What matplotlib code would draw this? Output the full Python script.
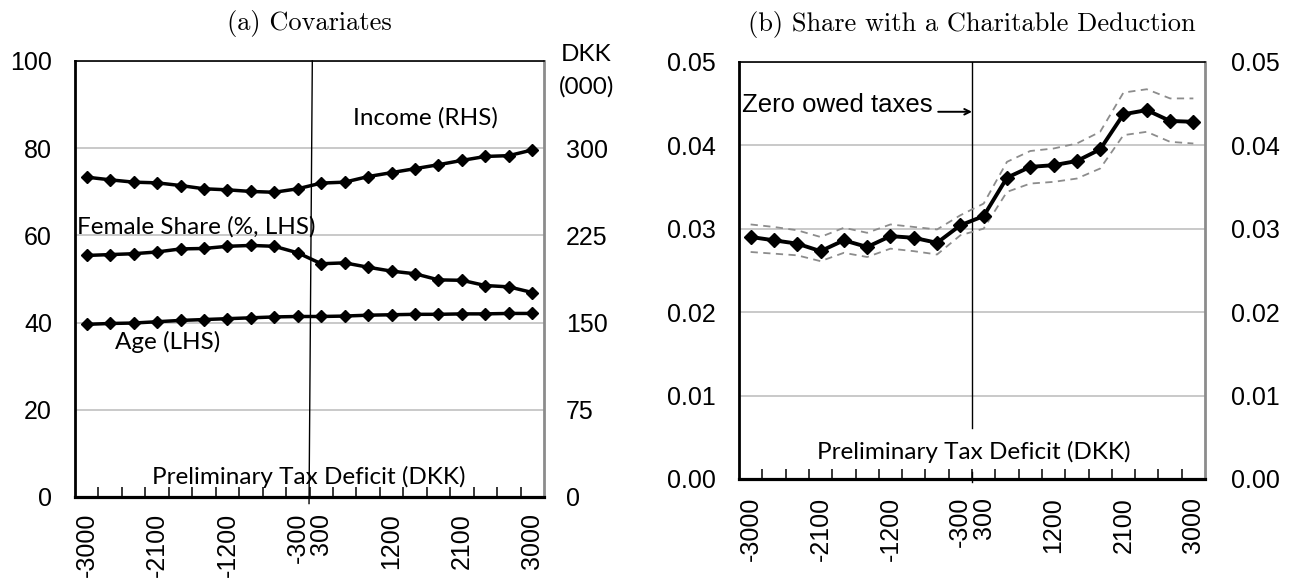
import numpy as np
import matplotlib
matplotlib.use('Agg')
import matplotlib.pyplot as plt
from matplotlib.ticker import FormatStrFormatter

# preliminary tax deficit bins (DKK)
bins = [-3000, -2700, -2400, -2100, -1800, -1500, -1200, -900, -600, -300,
        300, 600, 900, 1200, 1500, 1800, 2100, 2400, 2700, 3000]
shown = [-3000, -2100, -1200, -300, 300, 1200, 2100, 3000]

# panel (a): covariates by bin
income = [275.1, 272.8, 270.8, 270.2, 267.9, 265.1, 264.2, 262.8, 262.1, 265.1,
          270.0, 270.8, 275.6, 279.0, 282.4, 285.8, 289.5, 292.9, 293.6, 298.5]
female = [55.4, 55.6, 55.8, 56.2, 56.9, 57.0, 57.5, 57.7, 57.5, 56.0,
          53.5, 53.7, 52.7, 51.8, 51.2, 49.8, 49.7, 48.5, 48.2, 46.9]
age = [39.6, 39.8, 39.9, 40.2, 40.5, 40.7, 40.9, 41.1, 41.3, 41.4,
       41.4, 41.5, 41.7, 41.8, 41.9, 41.9, 42.0, 42.0, 42.1, 42.1]

# panel (b): share with a charitable deduction and its band
share = [0.0290, 0.0286, 0.0282, 0.0273, 0.0286, 0.0278, 0.0291, 0.0289, 0.0283, 0.0304,
         0.0315, 0.0361, 0.0374, 0.0376, 0.0381, 0.0395, 0.0437, 0.0442, 0.0429, 0.0428]
share_hi = [0.0305, 0.0302, 0.0298, 0.0290, 0.0301, 0.0295, 0.0305, 0.0302, 0.0299, 0.0316,
            0.0330, 0.0380, 0.0393, 0.0396, 0.0402, 0.0416, 0.0463, 0.0467, 0.0456, 0.0456]
share_lo = [0.0272, 0.0270, 0.0268, 0.0261, 0.0271, 0.0266, 0.0276, 0.0273, 0.0269, 0.0292,
            0.0300, 0.0344, 0.0354, 0.0356, 0.0360, 0.0372, 0.0412, 0.0416, 0.0404, 0.0402]

x = np.arange(len(bins))
lab_pos = [bins.index(b) for b in shown]
cut = bins.index(300) - 0.5   # between -300 and 300

tickfont = 'Liberation Sans'
notefont = 'Lato'
titlefont = ['cmr10', 'DejaVu Serif']
grid_c = '#c0c0c0'

fig = plt.figure(figsize=(12.91, 5.79), dpi=100)
axa = fig.add_axes([75/1291, 1-497/579, 469/1291, 436/579])
axb = fig.add_axes([739/1291, 1-479/579, 466/1291, 417.3/579])


def frame(ax, xpad):
    ax.set_xlim(-0.5, len(bins)-0.5)
    ax.set_xticks(lab_pos)
    ax.set_xticklabels([str(b) for b in shown], rotation=90, va='top', ha='center',
                       fontsize=18, family=tickfont)
    ax.set_xticks(np.arange(0.5, len(bins)-1), minor=True)
    ax.tick_params(axis='x', which='major', length=0, pad=xpad)
    ax.tick_params(axis='x', which='minor', direction='in', length=7, width=1.1, color='black')
    ax.tick_params(axis='y', length=0, pad=16.5, labelsize=18)
    for t in ax.get_yticklabels():
        t.set_family(tickfont)
    ax.grid(axis='y', color=grid_c, lw=1.2)
    ax.set_axisbelow(True)
    ax.spines['left'].set_linewidth(2)
    ax.spines['bottom'].set_linewidth(2.3)
    ax.spines['top'].set_linewidth(1.2)
    ax.spines['right'].set_color('#8c8c8c')
    ax.spines['right'].set_linewidth(2)


# ---- (a) Covariates
axa.set_ylim(0, 100)
axa.set_yticks([0, 20, 40, 60, 80, 100])
frame(axa, 11.5)
axa.plot([cut+0.12, cut-0.02], [100, -1.5], color='black', lw=1, clip_on=False, zorder=3)
axa.plot(x, female, color='black', lw=2.5, marker='D', ms=6.4, zorder=4)
axa.plot(x, age, color='black', lw=2.5, marker='D', ms=6.4, zorder=4)

axa2 = axa.twinx()
axa2.set_ylim(0, 375)
axa2.set_yticks([0, 75, 150, 225, 300])
axa2.tick_params(axis='y', length=0, pad=16, labelsize=18)
for t in axa2.get_yticklabels():
    t.set_family(tickfont)
for s in axa2.spines.values():
    s.set_visible(False)
axa2.plot(x, income, color='black', lw=2.5, marker='D', ms=6.4, zorder=4)

axa.text(14.45, 86.9, 'Income (RHS)', family=notefont, fontsize=17.5, ha='center', va='center')
axa.text(4.68, 61.9, 'Female Share (%, LHS)', family=notefont, fontsize=17.5, ha='center', va='center')
axa.text(3.47, 35.6, 'Age (LHS)', family=notefont, fontsize=17.5, ha='center', va='center')
axa.text(9.48, 4.6, 'Preliminary Tax Deficit (DKK)', family=notefont, fontsize=17.5,
         ha='center', va='center')
axa.text(21.3, 101.4, 'DKK', family=notefont, fontsize=17.5, ha='center', va='center', clip_on=False)
axa.text(21.3, 94.0, '(000)', family=notefont, fontsize=17.5, ha='center', va='center', clip_on=False)
axa.set_title('(a) Covariates', family=titlefont, fontsize=19, pad=22)

# ---- (b) Share with a Charitable Deduction
axb.set_ylim(0, 0.05)
ticks_b = [0, 0.01, 0.02, 0.03, 0.04, 0.05]
axb.set_yticks(ticks_b)
axb.yaxis.set_major_formatter(FormatStrFormatter('%.2f'))
frame(axb, 13)
axb.plot([cut, cut], [0.0061, 0.05], color='black', lw=1, zorder=3)
axb.plot([cut, cut], [-0.0003, 0.0008], color='black', lw=1, clip_on=False, zorder=3)
axb.plot(x, share_hi, color='#8c8c8c', lw=1.3, ls=(0, (4, 3)), zorder=3)
axb.plot(x, share_lo, color='#8c8c8c', lw=1.3, ls=(0, (4, 3)), zorder=3)
axb.plot(x, share, color='black', lw=2.8, marker='D', ms=7, zorder=4)

axb2 = axb.twinx()
axb2.set_ylim(0, 0.05)
axb2.set_yticks(ticks_b)
axb2.yaxis.set_major_formatter(FormatStrFormatter('%.2f'))
axb2.tick_params(axis='y', length=0, pad=19, labelsize=18)
for t in axb2.get_yticklabels():
    t.set_family(tickfont)
for s in axb2.spines.values():
    s.set_visible(False)

axb.text(-0.37, 0.0448, 'Zero owed taxes', family=tickfont, fontsize=18.5, ha='left', va='center')
axb.annotate('', xy=(cut, 0.0440), xytext=(8.05, 0.0440),
             arrowprops=dict(arrowstyle='->', lw=1.4, color='black', shrinkA=0, shrinkB=0))
axb.text(9.57, 0.00327, 'Preliminary Tax Deficit (DKK)', family=notefont, fontsize=17.5,
         ha='center', va='center')
axb.set_title('(b) Share with a Charitable Deduction', family=titlefont, fontsize=19, pad=22)

fig.savefig('out.png', dpi=100)
